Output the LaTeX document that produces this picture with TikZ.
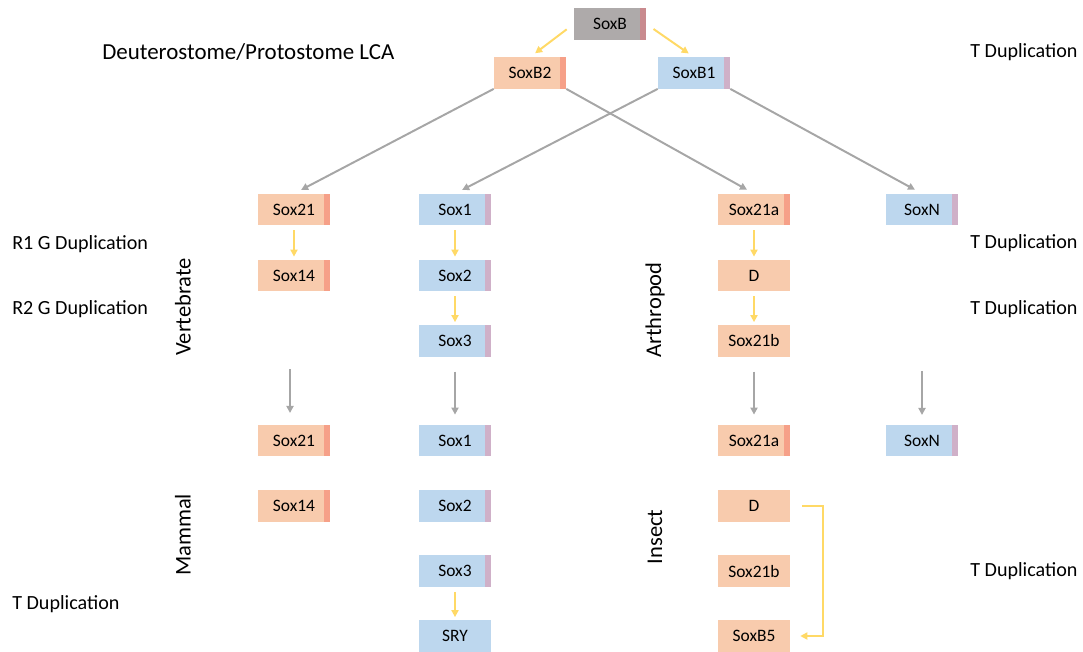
\documentclass[tikz,border=0pt]{standalone}
\usepackage{fontspec}
\setmainfont{Carlito}
\usetikzlibrary{arrows.meta}
\usetikzlibrary{positioning}

\definecolor{orangefill}{HTML}{F8CBAD}
\definecolor{orangetab}{HTML}{F6A088}
\definecolor{bluefill}{HTML}{BDD7EE}
\definecolor{bluetab}{HTML}{CFB0C8}
\definecolor{greyfill}{HTML}{AEAAAA}
\definecolor{greytab}{HTML}{C98A8E}
\definecolor{yellowline}{HTML}{FFD966}
\definecolor{greyline}{HTML}{A6A6A6}

\tikzset{
    gene/.style={rectangle, minimum width=1.8cm, minimum height=0.78cm, inner sep=0pt,
        font=\fontsize{12.4}{14}\selectfont},
    orangegene/.style={gene, fill=orangefill},
    bluegene/.style={gene, fill=bluefill},
    withtab/.style={path picture={\fill[#1] ([xshift=-0.15cm]path picture bounding box.north east)
        rectangle (path picture bounding box.south east);}},
    sidetext/.style={anchor=west, inner sep=0pt, font=\fontsize{14.3}{16}\selectfont},
    cladetext/.style={rotate=90, inner sep=0pt, font=\fontsize{16}{18}\selectfont},
}

\begin{document}
\begin{tikzpicture}[x=0.025cm, y=-0.025cm]
    \useasboundingbox (0,0) rectangle (1083,651);

        % ancestral genes
        \node[gene, fill=greyfill, withtab=greytab] (soxb) at (610,24) {SoxB};
        \node[orangegene, withtab=orangetab] (soxbtwo) at (530,73) {SoxB2};
        \node[bluegene, withtab=bluetab] (soxbone) at (694,73) {SoxB1};

        % vertebrate
        \begin{scope}[every node/.style={orangegene, withtab=orangetab}]
            \node (sox21) at (294,209.5) {Sox21};
            \node (sox14) at (294,275.5) {Sox14};
            \node (sox21m) at (294,440.5) {Sox21};
            \node (sox14m) at (294,506) {Sox14};
        \end{scope}
        \begin{scope}[every node/.style={bluegene, withtab=bluetab}]
            \node (sox1) at (455,209.5) {Sox1};
            \node (sox2) at (455,275.5) {Sox2};
            \node (sox3) at (455,341) {Sox3};
            \node (sox1m) at (455,440.5) {Sox1};
            \node (sox2m) at (455,506) {Sox2};
            \node (sox3m) at (455,571) {Sox3};
        \end{scope}
        \node[bluegene] (sry) at (455,636) {SRY};

        % arthropod
        \begin{scope}[every node/.style={orangegene}]
            \node[withtab=orangetab] (sox21a) at (754,209.5) {Sox21a};
            \node (dich) at (754,275.5) {D};
            \node (sox21b) at (754,341) {Sox21b};
            \node[withtab=orangetab] (sox21ai) at (754,440.5) {Sox21a};
            \node (dichi) at (754,506) {D};
            \node (sox21bi) at (754,571) {Sox21b};
            \node (soxbfive) at (754,636) {SoxB5};
        \end{scope}
        \begin{scope}[every node/.style={bluegene, withtab=bluetab}]
            \node (soxn) at (922,209.5) {SoxN};
            \node (soxni) at (922,440.5) {SoxN};
        \end{scope}

        % free ends of the lineage arrows
        \coordinate (vgapa) at (290,356);
        \coordinate (vgapb) at (290,425);
        \coordinate (ngapa) at (922,356);
        \coordinate (ngapb) at (922,425);

        % texts
        \node[sidetext, font=\fontsize{16.3}{18}\selectfont] (lca) at (102,52) {Deuterostome/Protostome LCA};
        \node[sidetext] (rone) at (12,244) {R1 G Duplication};
        \node[sidetext] (rtwo) at (12,309) {R2 G Duplication};
        \node[sidetext] (tdupl) at (12,604) {T Duplication};
        \node[sidetext] (tdupa) at (970,52) {T Duplication};
        \node[sidetext] (tdupb) at (970,243) {T Duplication};
        \node[sidetext] (tdupc) at (970,309) {T Duplication};
        \node[sidetext] (tdupd) at (970,571) {T Duplication};
        \node[cladetext] (vertebrate) at (183,307) {Vertebrate};
        \node[cladetext] (mammal) at (183,535) {Mammal};
        \node[cladetext] (arthropod) at (655,310) {Arthropod};
        \node[cladetext] (insect) at (655,537) {Insect};

        % duplications
        \begin{scope}[yellowline, line width=1.4pt, >={Triangle[length=5pt,width=5pt]}]
            \path [->, shorten <=0.22cm, shorten >=0.16cm] (soxb.west) edge (soxbtwo.north);
            \path [->, shorten <=0.22cm, shorten >=0.16cm] (soxb.east) edge (soxbone.north);
            \path [->, shorten <=0.125cm, shorten >=0.075cm] (sox21) edge (sox14);
            \path [->, shorten <=0.125cm, shorten >=0.075cm] (sox1) edge (sox2);
            \path [->, shorten <=0.125cm, shorten >=0.075cm] (sox2) edge (sox3);
            \path [->, shorten <=0.125cm, shorten >=0.075cm] (sox3m) edge (sry);
            \path [->, shorten <=0.125cm, shorten >=0.075cm] (sox21a) edge (dich);
            \path [->, shorten <=0.125cm, shorten >=0.075cm] (dich) edge (sox21b);
            \draw [->, shorten <=0.3cm, shorten >=0.25cm] (dichi.east) -- ++(33,0) |- (soxbfive.east);
        \end{scope}

        % lineages
        \begin{scope}[greyline, line width=1.4pt, >={Triangle[length=5pt,width=5pt]}]
            \path [->, shorten >=0.2cm] (soxbtwo.south west) edge (sox21.north);
            \path [->, shorten >=0.2cm] (soxbtwo.south east) edge (sox21a.north);
            \path [->, shorten >=0.2cm] (soxbone.south west) edge (sox1.north);
            \path [->, shorten >=0.2cm] (soxbone.south east) edge (soxn.north);
            \path [->, shorten <=0.33cm, shorten >=0.3cm] (vgapa) edge (vgapb);
            \path [->, shorten <=0.37cm, shorten >=0.25cm] (sox3) edge (sox1m);
            \path [->, shorten <=0.37cm, shorten >=0.25cm] (sox21b) edge (sox21ai);
            \path [->, shorten <=0.37cm, shorten >=0.25cm] (ngapa) edge (ngapb);
        \end{scope}

    \end{tikzpicture}
\end{document}
